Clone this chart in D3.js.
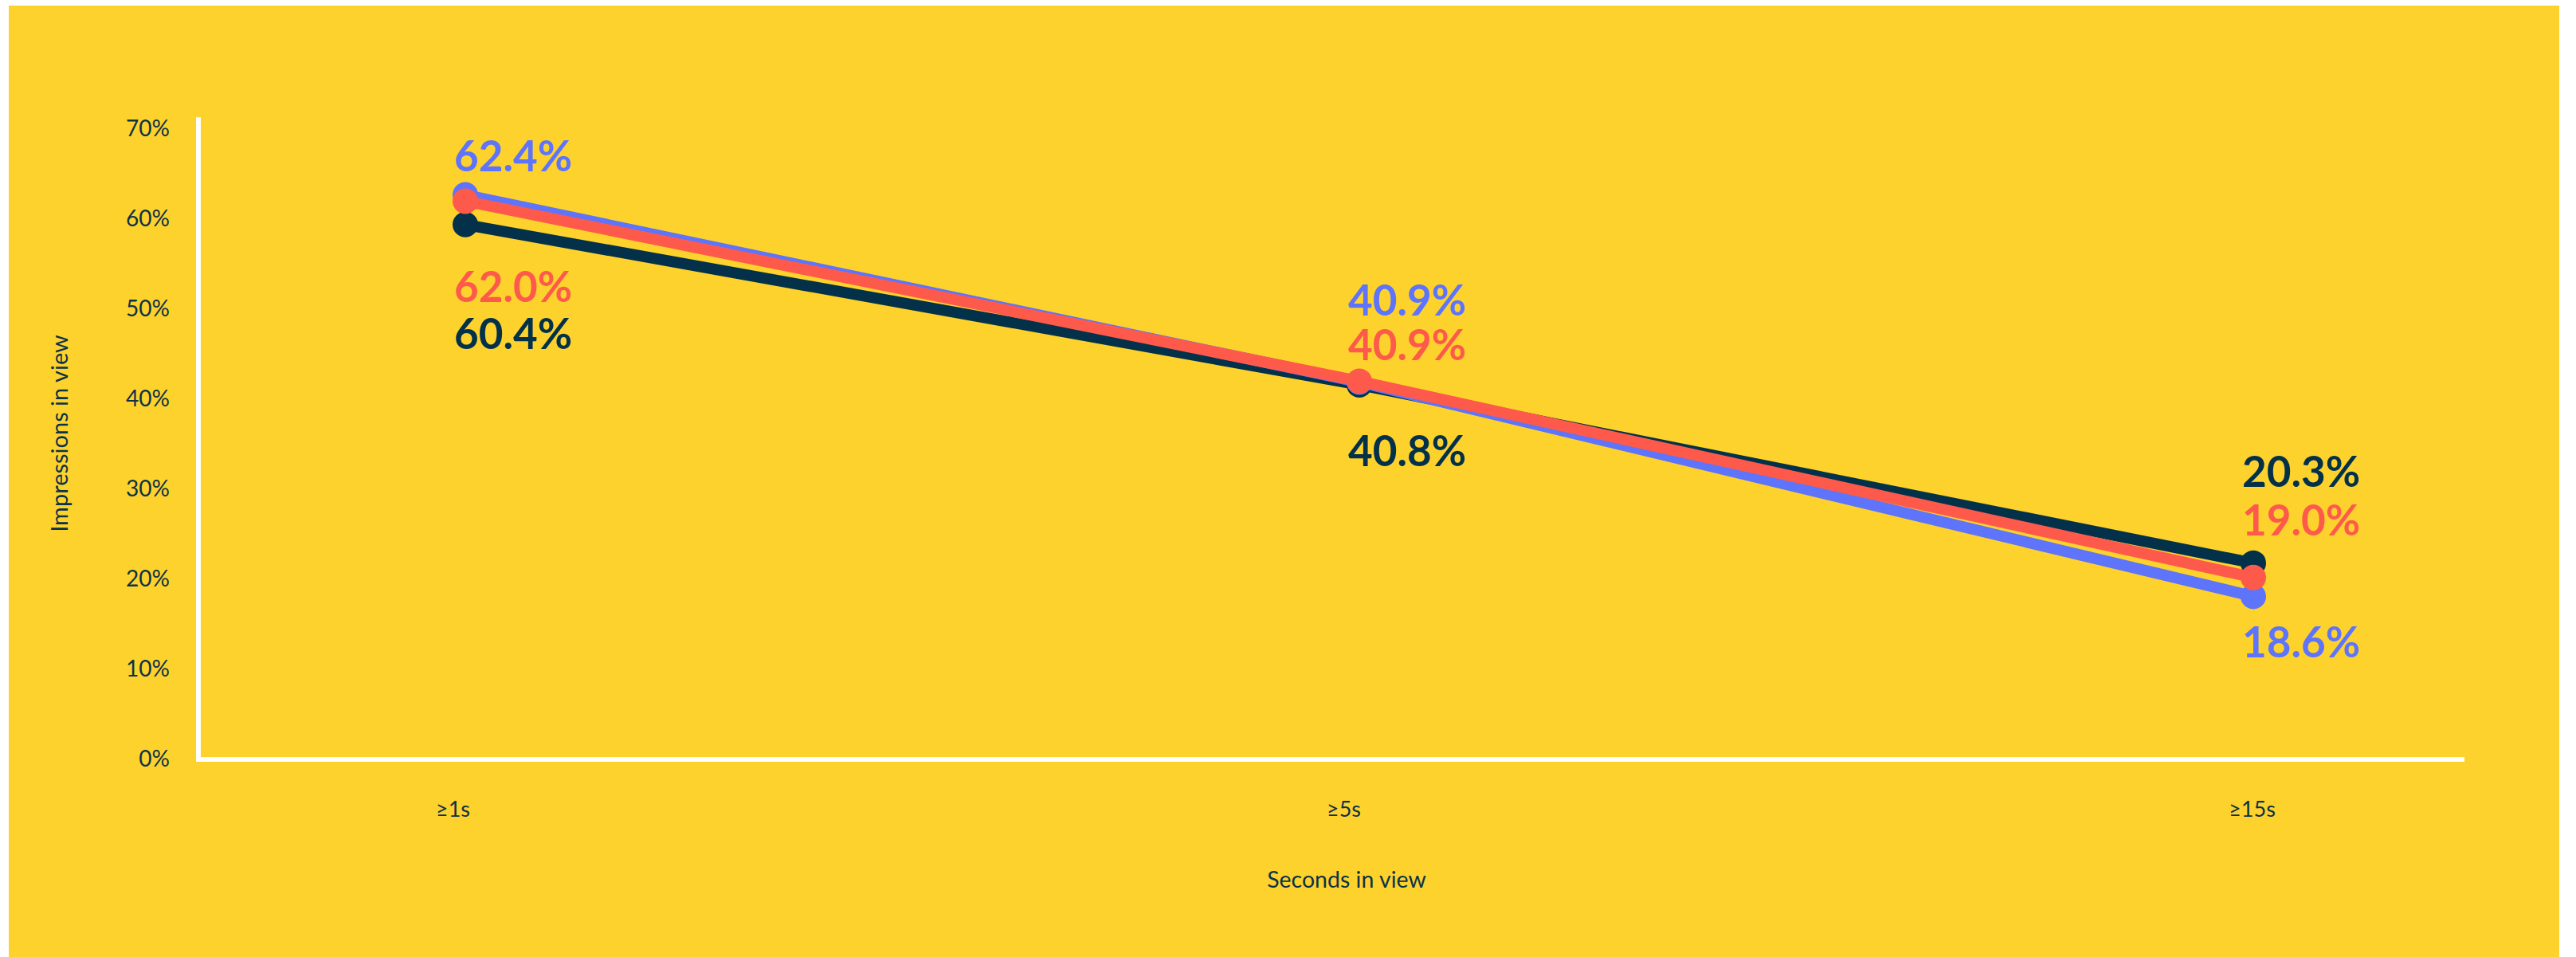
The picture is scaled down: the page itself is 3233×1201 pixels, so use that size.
<!DOCTYPE html>
<html>
<head>
<meta charset="utf-8">
<script src="https://cdn.jsdelivr.net/npm/d3@7"></script>
<style>
  body { margin: 0; background: #fff; }
  text { font-family: Lato, "Noto Sans", sans-serif; }
</style>
</head>
<body>
<svg id="chart" width="3233" height="1201"></svg>
<script>
// data
var categories = ["≥1s", "≥5s", "≥15s"];
var yTicks = [0, 10, 20, 30, 40, 50, 60, 70];
var navyValues = [59.4, 41.6, 21.8];
var blueValues = [62.7, 41.9, 18.1];
var redValues  = [62.0, 42.0, 20.2];
var navyLabels = ["60.4%", "40.8%", "20.3%"];
var blueLabels = ["62.4%", "40.9%", "18.6%"];
var redLabels  = ["62.0%", "40.9%", "19.0%"];

// layout / style
var navy = "#03314a", blue = "#5d74fb", red = "#fe5a4b", yellow = "#fed22d", ink = "#0b3249";
var series = [
   {values: navyValues, labels: navyLabels, color: navy, dy: [156, 102, -96]},
   {values: blueValues, labels: blueLabels, color: blue, dy: [-29, -84, 77]},
   {values: redValues,  labels: redLabels,  color: red,  dy: [127, -26, -53]}
];

var svg_canvas = d3.select("#chart");
svg_canvas.append("rect")
   .attr("x", 11).attr("y", 7)
   .attr("width", 3201).attr("height", 1194)
   .attr("fill", yellow);

var x = d3.scalePoint().domain(categories).range([584, 2828]);
var y = d3.scaleLinear().domain([0, 70]).range([953, 162]);

// axes lines
svg_canvas.append("line")
   .attr("x1", 249).attr("x2", 249)
   .attr("y1", y(71.3)).attr("y2", y(0) + 3)
   .attr("stroke", "#fff").attr("stroke-width", 6);
svg_canvas.append("line")
   .attr("x1", 246).attr("x2", 3093)
   .attr("y1", y(0)).attr("y2", y(0))
   .attr("stroke", "#fff").attr("stroke-width", 6);

// y ticks
var yAxis = svg_canvas.append("g")
   .attr("transform", "translate(213,0)")
   .call(d3.axisLeft(y).tickValues(yTicks).tickSize(0).tickPadding(0).tickFormat(function(d) { return d + "%"; }));
yAxis.select(".domain").remove();
yAxis.selectAll("text")
   .attr("fill", ink)
   .style("font-size", "28px")
   .style("font-family", "Lato, sans-serif");

// x ticks
var xAxis = svg_canvas.append("g")
   .attr("transform", "translate(-16,1006)")
   .call(d3.axisBottom(x).tickSize(0).tickPadding(0));
xAxis.select(".domain").remove();
xAxis.selectAll("text")
   .attr("fill", ink)
   .attr("dy", "0.71em")
   .style("font-size", "27px")
   .style("font-family", "Lato, sans-serif")
   .attr("x", function(d, i) { return i == 0 ? 0 : (i == 1 ? -4 : 14); });

// axis titles
svg_canvas.append("text")
   .attr("transform", "translate(85,544) rotate(-90)")
   .attr("text-anchor", "middle")
   .attr("fill", ink)
   .style("font-size", "29px")
   .text("Impressions in view");
svg_canvas.append("text")
   .attr("x", 1690).attr("y", 1114)
   .attr("text-anchor", "middle")
   .attr("fill", ink)
   .style("font-size", "28.5px")
   .text("Seconds in view");

// lines + dots
var line = d3.line()
   .x(function(d, i) { return x(categories[i]); })
   .y(function(d) { return y(d); });

series.forEach(function(s) {
   var g = svg_canvas.append("g");
   g.append("path")
      .attr("d", line(s.values))
      .attr("fill", "none")
      .attr("stroke", s.color)
      .attr("stroke-width", 14);
   g.selectAll("circle").data(s.values).enter().append("circle")
      .attr("cx", function(d, i) { return x(categories[i]); })
      .attr("cy", function(d) { return y(d); })
      .attr("r", 16)
      .attr("fill", s.color);
});

// value labels
series.forEach(function(s) {
   svg_canvas.append("g").selectAll("text").data(s.values).enter().append("text")
      .attr("x", function(d, i) { return x(categories[i]) - 14; })
      .attr("y", function(d, i) { return y(d) + s.dy[i]; })
      .attr("fill", s.color)
      .style("font-size", "53px")
      .style("font-weight", 700)
      .text(function(d, i) { return s.labels[i]; });
});
</script>
</body>
</html>
